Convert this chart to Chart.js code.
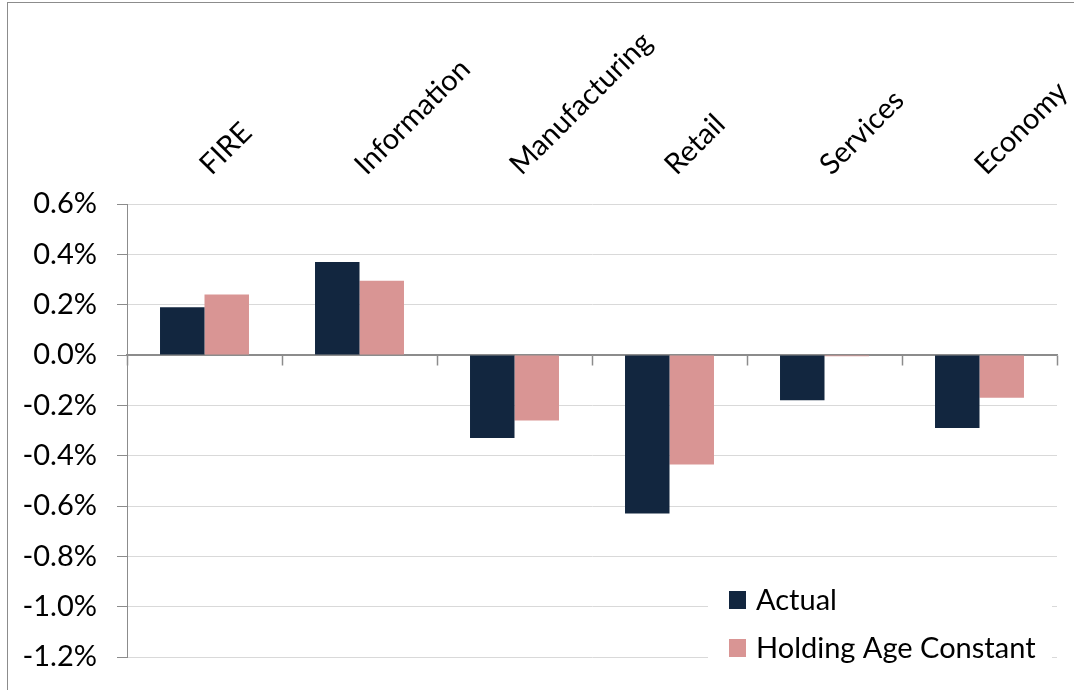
<!DOCTYPE html>
<html>
<head>
<meta charset="utf-8">
<script src="https://cdn.jsdelivr.net/npm/chart.js@4.4.0/dist/chart.umd.min.js"></script>
<style>
  html, body { margin: 0; padding: 0; background: #fff; overflow: hidden; }
  #frame { position: absolute; left: 7px; top: 2px; width: 1200px; height: 800px; border: 1px solid #8c8c8c; }
  #chart { position: absolute; left: 0; top: 0; }
</style>
</head>
<body>
<div id="frame"></div>
<canvas id="chart" width="1074" height="690"></canvas>
<script>
// categories and series (percent)
const categories = ['FIRE', 'Information', 'Manufacturing', 'Retail', 'Services', 'Economy'];
const actual = [0.19, 0.37, -0.33, -0.63, -0.18, -0.29];
const holdingAgeConstant = [0.24, 0.295, -0.26, -0.435, -0.005, -0.17];
const yTicks = [0.6, 0.4, 0.2, 0.0, -0.2, -0.4, -0.6, -0.8, -1.0, -1.2];

const AXIS_GREY = '#8c8c8c';
const GRID_GREY = '#d9d9d9';

// legend drawn inside the plot, bottom right, on a white box
const boxLegend = {
  id: 'boxLegend',
  afterDatasetsDraw(chart) {
    const { ctx, chartArea } = chart;
    const left = chartArea.right - 349;
    ctx.save();
    ctx.fillStyle = '#fff';
    ctx.fillRect(left, chartArea.bottom - 82, 344, 120);
    ctx.font = '29px Lato';
    ctx.textBaseline = 'alphabetic';
    chart.data.datasets.forEach((ds, i) => {
      const y = chartArea.bottom - 57 + i * 48;
      ctx.fillStyle = ds.backgroundColor;
      ctx.fillRect(left + 21, y - 9, 17, 18);
      ctx.fillStyle = '#000';
      ctx.fillText(ds.label, left + 48, y + 10);
    });
    ctx.restore();
  }
};

function draw() {
  Chart.defaults.font.family = 'Lato';
  Chart.defaults.font.size = 29;
  Chart.defaults.color = '#000';

  const ctx = document.getElementById('chart').getContext('2d');
  new Chart(ctx, {
    type: 'bar',
    data: {
      labels: categories,
      datasets: [
        { label: 'Actual', data: actual, backgroundColor: '#12263f' },
        { label: 'Holding Age Constant', data: holdingAgeConstant, backgroundColor: '#d99594' }
      ]
    },
    options: {
      responsive: false,
      animation: false,
      devicePixelRatio: 1,
      layout: { padding: { left: 0, right: 17, top: 0, bottom: 33 } },
      datasets: { bar: { categoryPercentage: 0.574, barPercentage: 1, borderWidth: 0 } },
      plugins: { legend: { display: false }, tooltip: { enabled: false } },
      scales: {
        x: {
          position: 'top',
          offset: true,
          grid: { display: false, drawTicks: false },
          border: { display: false },
          ticks: { minRotation: 45, maxRotation: 45, autoSkip: false, padding: 22, labelOffset: 25 },
          afterFit(s) { s.height = 204; s.paddingLeft = 0; s.paddingRight = 0; }
        },
        // horizontal axis line at zero with tick marks between categories
        x2: {
          type: 'category',
          labels: categories,
          position: { y: 0 },
          offset: true,
          grid: { offset: true, drawOnChartArea: false, drawTicks: true, tickLength: 10, tickColor: AXIS_GREY, tickWidth: 1.5 },
          border: { color: AXIS_GREY, width: 1.5 },
          ticks: { display: false }
        },
        y: {
          min: Math.min(...yTicks),
          max: Math.max(...yTicks),
          ticks: {
            stepSize: 0.2,
            padding: 20,
            callback: v => (Math.abs(v) < 1e-9 ? 0 : v).toFixed(1) + '%'
          },
          grid: {
            color: c => (c.tick && Math.abs(c.tick.value) < 1e-9 ? AXIS_GREY : GRID_GREY),
            lineWidth: 1,
            tickLength: 10,
            tickColor: AXIS_GREY
          },
          border: { color: AXIS_GREY, width: 1 },
          afterFit(s) { s.width = 127; s.paddingTop = 0; s.paddingBottom = 0; }
        }
      }
    },
    plugins: [boxLegend]
  });
}

document.fonts.load('29px Lato').then(draw, draw);
</script>
</body>
</html>
